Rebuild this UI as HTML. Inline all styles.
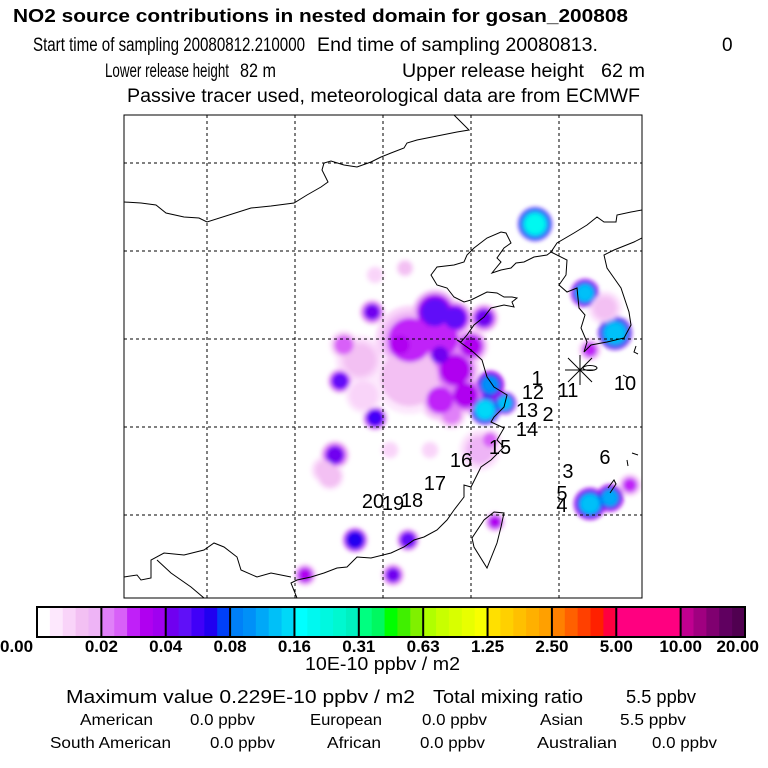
<!DOCTYPE html>
<html><head><meta charset="utf-8"><style>body{margin:0;background:#fff}svg{display:block}text{font-family:"Liberation Sans",sans-serif;fill:#000}</style></head>
<body>
<svg id="chart" width="768" height="768" viewBox="0 0 768 768" xmlns="http://www.w3.org/2000/svg">
<defs>
<filter id="blur" x="-50%" y="-50%" width="200%" height="200%"><feGaussianBlur stdDeviation="2"/></filter>
<clipPath id="mapclip"><rect x="124" y="115" width="518" height="483"/></clipPath>
</defs>
<g>
<text x="13" y="22" font-size="18" font-weight="bold" textLength="615" lengthAdjust="spacingAndGlyphs">NO2 source contributions in nested domain for gosan_200808</text>
<text x="33" y="51" font-size="19" textLength="272" lengthAdjust="spacingAndGlyphs">Start time of sampling 20080812.210000</text>
<text x="317" y="51" font-size="19" textLength="281" lengthAdjust="spacingAndGlyphs">End time of sampling 20080813.</text>
<text x="722" y="51" font-size="19">0</text>
<text x="105" y="77" font-size="19" textLength="124" lengthAdjust="spacingAndGlyphs">Lower release height</text>
<text x="240" y="77" font-size="19" textLength="36" lengthAdjust="spacingAndGlyphs">82 m</text>
<text x="402" y="77" font-size="19" textLength="182" lengthAdjust="spacingAndGlyphs">Upper release height</text>
<text x="601" y="77" font-size="19" textLength="44" lengthAdjust="spacingAndGlyphs">62 m</text>
<text x="127" y="102" font-size="19" textLength="513" lengthAdjust="spacingAndGlyphs">Passive tracer used, meteorological data are from ECMWF</text>
</g>
<g id="map" clip-path="url(#mapclip)">
<rect x="124" y="115" width="518" height="483" fill="#fff"/>
<g id="blobs" filter="url(#blur)"></g>
<g id="grid"></g>
<g fill="none" stroke="#000" stroke-width="1">
<polyline points="454,115 469,130 457,132 442,135 427,138 417,140 407,143 404,148 391,153 381,157 371,162 357,167 344,165 331,161 324,163 322,170 328,182 321,187 307,195 294,203 271,206 251,208 207,222 199,218 184,217 166,213 156,205 141,203 124,202"/>
<polyline points="642,210 631,212 617,215 616,222 604,222 597,217 587,225 574,233 557,243 551,252 547,255 534,257 524,262 516,263 511,268 501,270 492,273 496,268 501,262 497,258 504,248 511,243 506,233 501,232 487,238 474,248 467,255 464,262 454,265 437,267 431,275 437,285 447,288 454,297 464,302 471,300 487,292 497,293 504,297 512,297 517,298 512,302 514,307 504,305 491,308 484,317 474,325 467,335 461,342 457,340 471,350 482,360 487,377 494,387 507,395 504,407 494,417 491,422 504,428 497,440 504,447 491,460 481,467 471,487 464,485 464,497 454,510 447,520 437,530 424,537 414,540 404,547 391,553 371,558 357,557 347,567 337,568 324,573 311,577 297,580 291,583 297,598"/>
<polyline points="551,252 567,260 566,275 559,285 567,292 577,288 579,308 585,315 581,328 587,342 584,352 591,345 607,342 624,338 631,325 629,312 621,288 614,278 607,268 604,255 614,250 634,242 642,238"/>
<polyline points="124,577 137,575 141,580 151,578 151,560 164,553 184,555 204,550 214,543 224,547 237,557 241,570 257,577 271,573 291,577"/>
<polyline points="157,560 171,573 191,587 204,598"/>
<polygon points="494,512 504,513 501,527 497,543 487,568 474,547 472,538 484,520"/>
<polyline points="636,346 634,352 638,354"/>
<polyline points="623,375 628,378"/>
<polyline points="632,453 638,455"/>
<polyline points="627,460 628,466"/>
<polyline points="608,488 614,480 616,484 610,493"/>
</g>
<g stroke="#000" stroke-width="1" fill="none">
<line x1="568" y1="358" x2="592" y2="382"/><line x1="568" y1="382" x2="592" y2="358"/><line x1="580" y1="355" x2="580" y2="385"/><line x1="565" y1="370" x2="595" y2="370"/>
<ellipse cx="590" cy="368" rx="7" ry="2.5"/>
</g>
<g id="labels" font-size="20"></g>
</g>
<rect x="124" y="115" width="518" height="483" fill="none" stroke="#000" stroke-width="1"/>
<g id="colorbar"></g>
<text x="305" y="670" font-size="18" textLength="155" lengthAdjust="spacingAndGlyphs">10E-10 ppbv / m2</text>
<g>
<text x="66" y="703" font-size="18" textLength="349" lengthAdjust="spacingAndGlyphs">Maximum value  0.229E-10 ppbv / m2</text>
<text x="433" y="703" font-size="18" textLength="150" lengthAdjust="spacingAndGlyphs">Total mixing ratio</text>
<text x="626" y="703" font-size="18" textLength="70" lengthAdjust="spacingAndGlyphs">5.5 ppbv</text>
<text x="80" y="725" font-size="16" textLength="73" lengthAdjust="spacingAndGlyphs">American</text>
<text x="190" y="725" font-size="16" textLength="65" lengthAdjust="spacingAndGlyphs">0.0 ppbv</text>
<text x="310" y="725" font-size="16" textLength="72" lengthAdjust="spacingAndGlyphs">European</text>
<text x="422" y="725" font-size="16" textLength="65" lengthAdjust="spacingAndGlyphs">0.0 ppbv</text>
<text x="540" y="725" font-size="16" textLength="43" lengthAdjust="spacingAndGlyphs">Asian</text>
<text x="620" y="725" font-size="16" textLength="66" lengthAdjust="spacingAndGlyphs">5.5 ppbv</text>
<text x="50" y="748" font-size="16" textLength="121" lengthAdjust="spacingAndGlyphs">South American</text>
<text x="210" y="748" font-size="16" textLength="65" lengthAdjust="spacingAndGlyphs">0.0 ppbv</text>
<text x="327" y="748" font-size="16" textLength="54" lengthAdjust="spacingAndGlyphs">African</text>
<text x="420" y="748" font-size="16" textLength="65" lengthAdjust="spacingAndGlyphs">0.0 ppbv</text>
<text x="537" y="748" font-size="16" textLength="80" lengthAdjust="spacingAndGlyphs">Australian</text>
<text x="652" y="748" font-size="16" textLength="65" lengthAdjust="spacingAndGlyphs">0.0 ppbv</text>
</g>
</svg>
<script>
// Data (lon, lat in degrees; value in 10E-10 ppbv/m2; radius in degrees)
const blobLon = [123.64,126.48,128.18,127.61,126.76,117.95,119.09,120.74,114.38,112.56,114.55,121.08,120.80,121.93,116.53,119.09,118.24,113.69,115.97,120.51,121.08,112.27,111.70,115.40,117.67,113.41,116.42,115.57,110.57,121.36,126.76,127.90,129.03,116.25,114.55,112.78,115.97,118.24,116.5,118.3,120.0,119.7,113.9,118.9,112.0];
const blobLat = [41.53,37.61,35.34,36.76,34.38,36.53,36.19,36.19,36.53,32.61,30.51,32.39,30.97,31.36,34.94,33.24,31.53,33.81,32.67,28.69,29.26,28.41,27.56,28.69,28.69,23.58,23.58,21.59,21.59,24.60,25.63,25.97,26.70,39.03,38.64,34.66,34.66,34.09,32.8,35.0,34.6,31.8,31.8,30.7,27.2];
const blobVal = [0.2,0.13,0.14,0.015,0.03,0.055,0.05,0.04,0.045,0.05,0.06,0.11,0.15,0.13,0.028,0.035,0.03,0.015,0.012,0.018,0.025,0.045,0.015,0.01,0.008,0.07,0.055,0.045,0.035,0.035,0.13,0.12,0.03,0.012,0.01,0.025,0.035,0.045,0.012,0.03,0.035,0.035,0.01,0.02,0.012];
const blobRad = [0.68,0.57,0.68,0.7,0.45,0.9,0.7,0.57,0.5,0.5,0.5,0.57,0.6,0.45,1.4,1.0,0.85,1.0,0.8,0.85,0.45,0.57,0.57,0.45,0.45,0.5,0.45,0.45,0.45,0.4,0.65,0.55,0.45,0.45,0.45,0.6,0.6,0.55,1.8,1.1,0.7,0.8,0.9,0.6,0.7];
const cbTicks = ["0.00","0.02","0.04","0.08","0.16","0.31","0.63","1.25","2.50","5.00","10.00","20.00"];
const cbLevels = [0,0.02,0.04,0.08,0.16,0.31,0.63,1.25,2.5,5,10,20];
const cbColors = [
["#ffffff","#fde8fd","#f9d4f9","#f3c0f3","#eeb4f6"],
["#e080f8","#d860f8","#c020f8","#b000f0","#a000f0"],
["#7000f0","#6010f8","#4000f8","#2000f0","#0040f8"],
["#0080f8","#0090f8","#00a8f8","#00c0f8","#00d8f8"],
["#00ffff","#00f8f0","#00f8e0","#00f8d0","#00f0c0"],
["#00ff80","#00f860","#00ff00","#40f000","#80f000"],
["#b0ff00","#c8ff00","#d8ff00","#e8ff00","#f8ff00"],
["#ffe000","#ffd000","#ffc000","#ffb000","#ffa000"],
["#ff8000","#ff6000","#ff4000","#ff2000","#ff0040"],
["#ff0080","#ff0080","#ff0080","#ff0080","#ff0080"],
["#c00090","#a00080","#800070","#600060","#500050"]];
const siteIds = ["1","2","3","4","5","6","10","11","12","13","14","15","16","17","18","19","20"];
const siteLon = [123.75,124.38,125.51,125.17,125.17,127.61,128.75,125.51,123.52,123.18,123.18,121.65,119.43,117.95,116.65,115.57,114.43];
const siteLat = [32.39,30.34,27.10,25.17,25.85,27.90,32.10,31.70,31.59,30.57,29.49,28.47,27.73,26.42,25.45,25.28,25.40];

const NS="http://www.w3.org/2000/svg";
const px = lon => 471 + (lon-120)*17.6;
const py = lat => 427 - (lat-30)*17.6;
function color(v){
  if(v<=0) return "#ffffff";
  for(let i=0;i<cbLevels.length-1;i++){
    if(v<cbLevels[i+1]){const f=(v-cbLevels[i])/(cbLevels[i+1]-cbLevels[i]);return cbColors[i][Math.min(4,Math.floor(f*5))];}
  }
  return cbColors[10][4];
}
function mk(tag,attrs,parent){const e=document.createElementNS(NS,tag);for(const k in attrs)e.setAttribute(k,attrs[k]);parent.appendChild(e);return e;}

const bl=document.getElementById('blobs');
const order=blobVal.map((v,i)=>i).sort((a,b)=>blobVal[a]-blobVal[b]);
[[1.4,0.3],[1.15,0.6],[0.9,1]].forEach(([rs,vs])=>{
  order.forEach(i=>{
    const c=mk('circle',{cx:px(blobLon[i]),cy:py(blobLat[i]),r:blobRad[i]*17.6*rs,fill:color(blobVal[i]*vs)},bl);
    
    
  });
});
const gr=document.getElementById('grid');
[105,110,115,120,125].forEach(lon=>{const l=mk('line',{x1:px(lon),x2:px(lon),y1:115,y2:598,stroke:'#000','stroke-dasharray':'3,3','stroke-width':1},gr);

});
[45,40,35,30,25].forEach(lat=>{const l=mk('line',{y1:py(lat),y2:py(lat),x1:124,x2:642,stroke:'#000','stroke-dasharray':'3,3','stroke-width':1},gr);

});
const lb=document.getElementById('labels');
siteIds.forEach((s,i)=>{const t=mk('text',{x:px(siteLon[i]),y:py(siteLat[i]),'text-anchor':'middle'},lb);t.textContent=s;

});
const cb=document.getElementById('colorbar');
const x0=37,x1=745,seg=(x1-x0)/11;
cbColors.forEach((cols,i)=>{cols.forEach((c,j)=>{const r=mk('rect',{x:x0+i*seg+j*seg/5,y:607,width:seg/5+0.5,height:30,fill:c},cb);

});});
for(let i=0;i<=11;i++){const l=mk('line',{x1:x0+i*seg,x2:x0+i*seg,y1:607,y2:637,stroke:'#000','stroke-width':2},cb);

}
const fr=mk('rect',{x:x0,y:607,width:x1-x0,height:30,fill:'none',stroke:'#000','stroke-width':2},cb);


cbTicks.forEach((t,i)=>{let x=x0+i*seg;let anchor='middle';if(i===0){x=0;anchor='start';}if(i===11){x=759;anchor='end';}
const e=mk('text',{x:x,y:652,'font-size':17,'font-weight':'bold','text-anchor':anchor},cb);e.textContent=t;

});
</script>
</body></html>
